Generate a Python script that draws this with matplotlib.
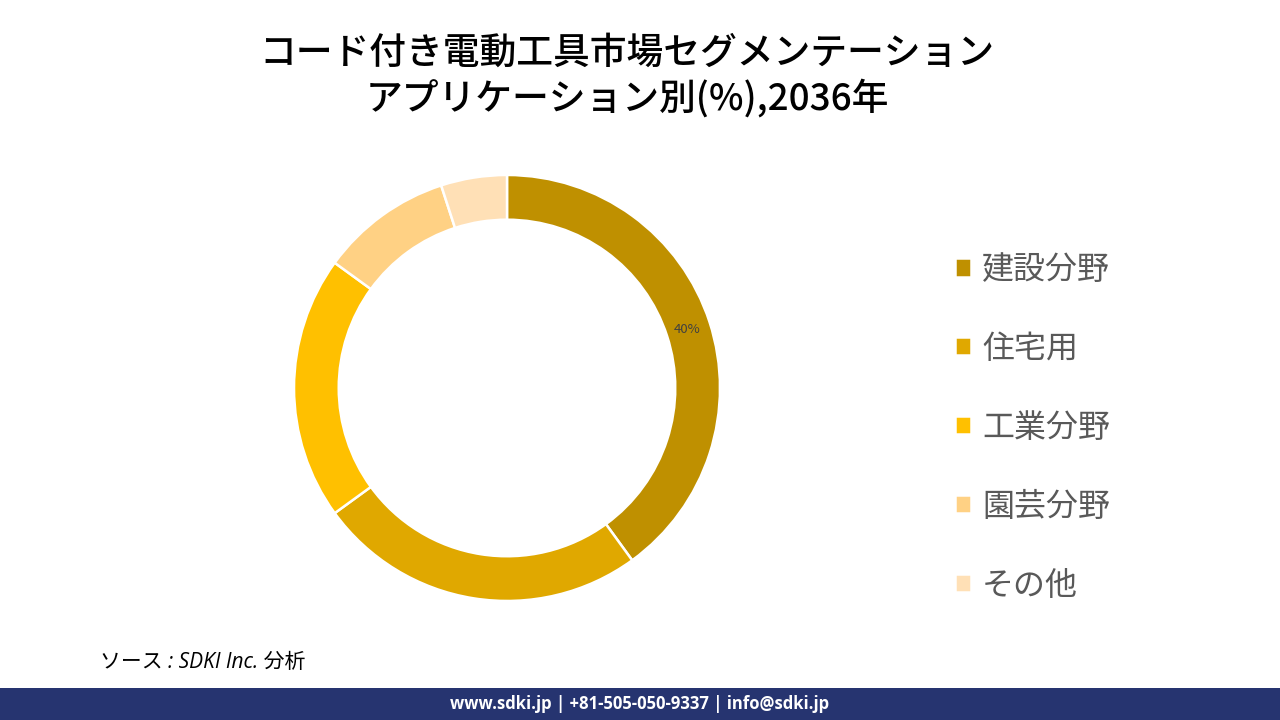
import matplotlib.pyplot as plt
from matplotlib.patches import Rectangle

plt.rcParams['font.family'] = ['Noto Sans CJK JP', 'DejaVu Sans']

# データ
categories = ['建設分野', '住宅用', '工業分野', '園芸分野', 'その他']
shares = [40, 25, 20, 10, 5]
colors = ['#BF9000', '#E0A800', '#FFC000', '#FFD184', '#FFE0B6']

title = 'コード付き電動工具市場セグメンテーション\nアプリケーション別(%),2036年'
source = 'ソース : SDKI Inc. 分析'
footer = 'www.sdki.jp | +81-505-050-9337 | info@sdki.jp'

fig = plt.figure(figsize=(12.8, 7.2), dpi=100)

# ドーナツ
ax = fig.add_axes([0.2297, 0.1653, 0.3328, 0.5917])
wedges, texts, autotexts = ax.pie(
    shares, colors=colors, startangle=90, counterclock=False,
    radius=1.0, autopct='%d%%', pctdistance=0.89,
    wedgeprops=dict(width=0.21, edgecolor='white', linewidth=1.8),
    textprops=dict(fontsize=9.5, color='#404040'))
for i, t in enumerate(autotexts):
    if i != 0:
        t.set_visible(False)
ax.set_xlim(-1, 1)
ax.set_ylim(-1, 1)
ax.set_aspect('equal')

# 凡例
fig.legend(wedges, categories, loc='center left', bbox_to_anchor=(0.746, 0.406),
           frameon=False, fontsize=23, labelcolor='#595959',
           handlelength=0.5, handleheight=0.5, handletextpad=0.35,
           labelspacing=1.47, borderpad=0, borderaxespad=0)

# タイトル
fig.text(0.49, 0.895, title, ha='center', va='center', fontsize=26.5,
         fontweight='medium', color='black', linespacing=1.2)

# ソース
fig.text(0.078, 0.080, source, ha='left', va='center', fontsize=15,
         style='italic', color='black',
         family=['Open Sans', 'Noto Sans CJK JP'])

# フッター
fig.patches.append(Rectangle((0, 0), 1, 32 / 720, transform=fig.transFigure,
                             facecolor='#263470', edgecolor='none'))
fig.text(0.5, 16 / 720, footer, ha='center', va='center', fontsize=12,
         fontweight='bold', color='white', family=['Open Sans', 'DejaVu Sans'])

fig.savefig('out.png', dpi=100)
